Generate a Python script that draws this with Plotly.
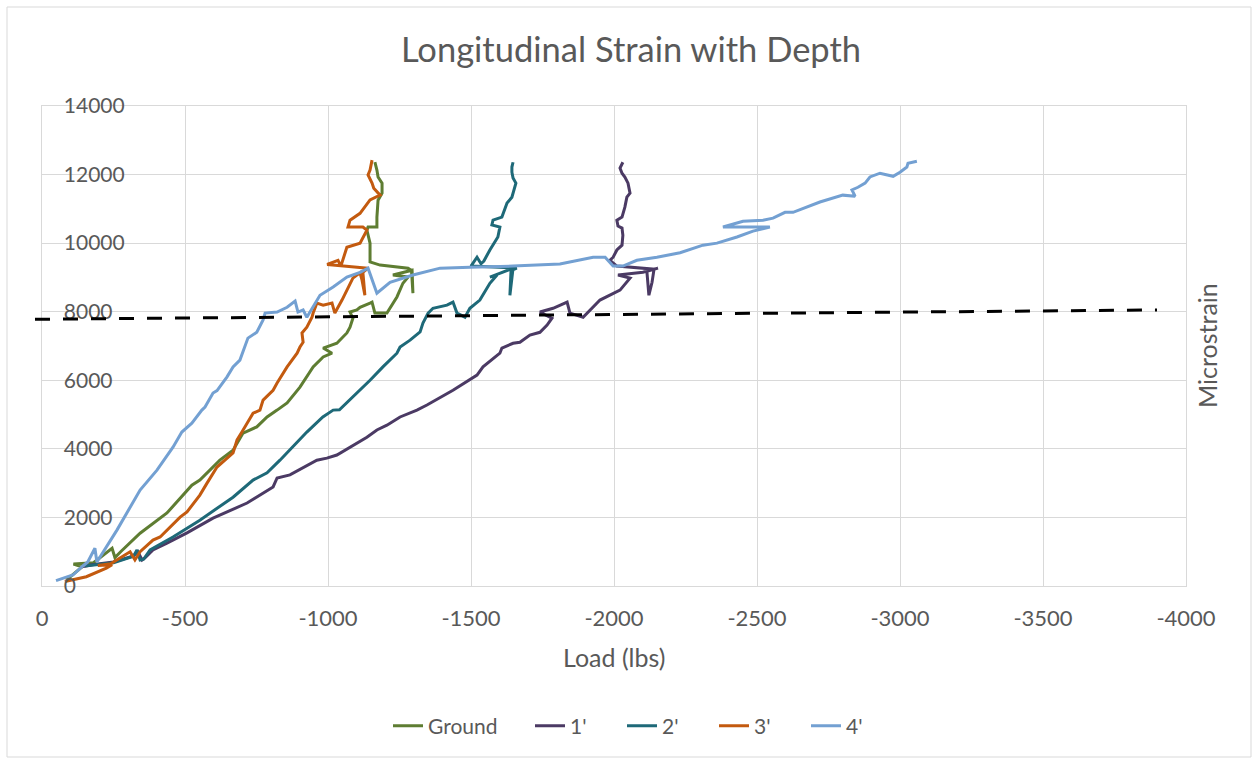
import plotly.graph_objects as go

# ---------------- data ----------------
ground_x = [-85, -140, -110, -180, -245, -255, -275, -343, -437, -524, -552, -622, -668, -703, -751,
            -787, -822, -857, -902, -948, -983, -1014, -983, -1031, -1066, -1077, -1087, -1077, -1101,
            -1112, -1147, -1154, -1164, -1206, -1241, -1262, -1280, -1227, -1294, -1297, -1292, -1280,
            -1182, -1147, -1147, -1147, -1136, -1140, -1171, -1171, -1175, -1189, -1189, -1175, -1171,
            -1164]
ground_y = [170, 560, 640, 680, 1100, 830, 1000, 1540, 2130, 2940, 3090, 3670, 3960, 4460, 4640,
            4930, 5130, 5340, 5800, 6390, 6680, 6790, 6940, 7080, 7380, 7550, 7810, 7990, 8050,
            8130, 8250, 8280, 7960, 7960, 8430, 8830, 9010, 9070, 9210, 8540, 9200, 9270,
            9360, 9450, 9880, 10000, 10380, 10470, 10470, 10760, 11250, 11460, 11750, 11930, 12130,
            12360]

one_x = [-140, -175, -250, -320, -335, -350, -360, -388, -437, -507, -598, -717, -808, -822, -867,
         -961, -996, -1031, -1136, -1171, -1206, -1252, -1311, -1346, -1437, -1521, -1542, -1601,
         -1608, -1647, -1671, -1706, -1741, -1766, -1783, -1741, -1787, -1836, -1846, -1892, -1951,
         -1986, -2021, -2056, -2014, -2101, -2154, -2115, -2122, -2133, -2140, -2031, -2010, -1986,
         -1997, -2010, -2028, -2031, -2028, -2014, -2010, -2028, -2038, -2045, -2056, -2049, -2038,
         -2028, -2021, -2031]
one_y = [560, 620, 700, 880, 1000, 760, 820, 1050, 1250, 1550, 1980, 2420, 2890, 3150, 3240,
         3670, 3730, 3820, 4340, 4550, 4690, 4930, 5130, 5280, 5710, 6150, 6390, 6790,
         6940, 7080, 7110, 7320, 7400, 7610, 7810, 7990, 8100, 8280, 7960, 7840, 8340,
         8480, 8630, 8980, 9070, 9150, 9270, 9180, 8480, 8860, 9240, 9300, 9330, 9500,
         9590, 9800, 9940, 10230, 10440, 10500, 10670, 10760, 11050, 11340, 11460, 11750, 11930,
         12040, 12190, 12360]

two_x = [-150, -250, -320, -332, -343, -355, -378, -458, -552, -668, -738, -787, -832, -913, -926,
         -982, -1018, -1040, -1087, -1147, -1192, -1241, -1252, -1287, -1322, -1332, -1350, -1367,
         -1416, -1437, -1451, -1479, -1496, -1531, -1566, -1591, -1566, -1647, -1636, -1640, -1660,
         -1500, -1521, -1535, -1545, -1566, -1594, -1601, -1573, -1577, -1608, -1626, -1643, -1650,
         -1657, -1647, -1643, -1643, -1647]
two_y = [580, 680, 870, 1050, 760, 780, 1050, 1430, 1920, 2590, 3090, 3300, 3670, 4400, 4490,
         4930, 5130, 5140, 5510, 6000, 6390, 6790, 6970, 7170, 7410, 7670, 7960, 8100,
         8190, 8280, 7960, 7840, 8100, 8340, 8830, 9070, 9010, 9270, 8480, 9200, 9270,
         9330, 9590, 9400, 9480, 9800, 10180, 10470, 10530, 10670, 10760, 11170, 11340, 11550,
         11750, 11900, 12070, 12220, 12360]

three_x = [-80, -155, -225, -245, -195, -240, -308, -325, -343, -388, -413, -483, -507, -552, -577,
           -612, -668, -682, -699, -738, -762, -773, -808, -822, -857, -892, -902, -913, -909, -926,
           -944, -948, -961, -983, -1014, -1024, -1049, -1066, -1087, -1101, -1112, -1119, -1129,
           -1122, -1140, -997, -1035, -1045, -1066, -1112, -1136, -1122, -1070, -1077, -1112, -1147,
           -1182, -1160, -1154, -1140, -1147, -1154]
three_y = [130, 270, 520, 620, 600, 650, 1000, 760, 1000, 1340, 1430, 2010, 2160, 2650, 3000,
           3470, 3880, 4260, 4490, 5040, 5130, 5420, 5710, 5920, 6390, 6790, 6970, 7110, 7380, 7550,
           7840, 7960, 8250, 8190, 8250, 7960, 8340, 8630, 8980, 9070, 9130, 8920, 8480,
           9150, 9270, 9380, 9500, 9330, 9880, 10000, 10380, 10470, 10470, 10670, 10870, 11260,
           11400, 11600, 11750, 11990, 12130, 12420]

four_x = [-49, -108, -143, -160, -185, -192, -262, -343, -402, -458, -489, -524, -559, -570, -598,
          -612, -647, -668, -692, -710, -720, -751, -773, -780, -822, -857, -885, -895, -913, -926,
          -972, -1018, -1066, -1112, -1140, -1171, -1217, -1297, -1392, -1496, -1647, -1811, -1927,
          -1969, -1997, -2031, -2080, -2150, -2231, -2311, -2360, -2430, -2486, -2545, -2381, -2451,
          -2521, -2556, -2580, -2598, -2626, -2720, -2800, -2843, -2832, -2853, -2878, -2895, -2930,
          -2976, -3000, -3024, -3028, -3059]
four_y = [155, 320, 583, 700, 1100, 700, 1630, 2800, 3380, 4050, 4490, 4750, 5130, 5220, 5630,
          5700, 6100, 6390, 6590, 6970, 7230, 7400, 7760, 7960, 7990, 8130, 8310, 7990, 8050, 7840,
          8480, 8720, 9010, 9150, 9270, 8540, 8860, 9070, 9270, 9300, 9330, 9390, 9590,
          9590, 9330, 9330, 9500, 9590, 9720, 9940, 10000, 10180, 10350, 10470, 10470, 10640,
          10670, 10730, 10820, 10900, 10900, 11200, 11400, 11370, 11550, 11630, 11750, 11930, 12040,
          11950, 12070, 12220, 12330, 12390]

# reference dashed line (end points)
ref_y = [7780, 8050]

x_ticks = [0, -500, -1000, -1500, -2000, -2500, -3000, -3500, -4000]
x_ticktext = ["0", "-500", "-1000", "-1500", "-2000", "-2500", "-3000", "-3500", "-4000"]
y_ticks = [0, 2000, 4000, 6000, 8000, 10000, 12000, 14000]
y_ticktext = ["0", "2000", "4000", "6000", "8000", "10000", "12000", "14000"]

series = [
    ("Ground", ground_x, ground_y, "#5e7d32", "legend"),
    ("1'", one_x, one_y, "#4b3a64", "legend2"),
    ("2'", two_x, two_y, "#1e6978", "legend2"),
    ("3'", three_x, three_y, "#c35a0f", "legend2"),
    ("4'", four_x, four_y, "#73a0d2", "legend2"),
]

FONT = "Lato, 'Open Sans', sans-serif"
GREY = "#595959"
GRID = "#d9d9d9"

fig = go.Figure()
for name, xs, ys, col, lg in series:
    fig.add_trace(go.Scatter(x=xs, y=ys, mode="lines", name=name, legend=lg,
                             line=dict(color=col, width=3)))

# plot area in pixels: x 42..1186, y 106..586
L, R, T, B = 42, 1186, 106, 586
W, H = R - L, B - T

def px_x(p):
    return (p - L) / W

def px_y(p):
    return (B - p) / H

fig.add_shape(type="line", xref="paper", yref="y",
              x0=px_x(35), x1=px_x(1157), y0=ref_y[0], y1=ref_y[1],
              line=dict(color="black", width=3, dash="15px,13px"))

# chart border
fig.add_shape(type="rect", xref="paper", yref="paper",
              x0=px_x(7), x1=px_x(1251), y0=px_y(757), y1=px_y(7),
              line=dict(color="#d9d9d9", width=1), layer="below")

legend_common = dict(orientation="h", y=px_y(726), yanchor="middle", xanchor="left",
                     font=dict(size=21, color=GREY), traceorder="normal",
                     bgcolor="rgba(0,0,0,0)")

fig.update_layout(
    width=1253, height=761,
    margin=dict(l=L, r=1253 - R, t=T, b=761 - B),
    paper_bgcolor="white", plot_bgcolor="white",
    font=dict(family=FONT, color=GREY, size=20),
    title=dict(text="Longitudinal Strain with Depth", x=631 / 1253, xanchor="center",
               xref="container", y=1 - 50 / 761, yanchor="middle", yref="container",
               font=dict(size=34.5, color=GREY, family=FONT)),
    showlegend=True,
    legend=dict(x=px_x(388), **legend_common),
    legend2=dict(x=px_x(530), entrywidth=47, entrywidthmode="pixels", **legend_common),
    xaxis=dict(range=[0, -4000], tickvals=x_ticks, ticktext=x_ticktext,
               showgrid=True, gridcolor=GRID, gridwidth=1, zeroline=False,
               showline=True, linecolor=GRID, linewidth=1, mirror=True,
               ticks="", ticklabelstandoff=13, ticklabeloverflow="allow",
               tickfont=dict(size=22, color=GREY)),
    yaxis=dict(range=[0, 14000], tickvals=y_ticks, ticktext=y_ticktext,
               showgrid=True, gridcolor=GRID, gridwidth=1, zeroline=False,
               showline=True, linecolor=GRID, linewidth=1, mirror=True,
               ticks="", ticklabelposition="inside", ticklabelstandoff=23,
               ticklabeloverflow="allow",
               tickfont=dict(size=21, color=GREY)),
    annotations=[
        dict(text="Load (lbs)", xref="paper", yref="paper", x=px_x(614), y=px_y(657),
             xanchor="center", yanchor="middle", showarrow=False,
             font=dict(size=25, color=GREY, family=FONT)),
        dict(text="Microstrain", xref="paper", yref="paper", x=px_x(1207), y=px_y(346),
             xanchor="center", yanchor="middle", showarrow=False, textangle=-90,
             font=dict(size=25, color=GREY, family=FONT)),
    ],
)

fig.write_html("out.html")
